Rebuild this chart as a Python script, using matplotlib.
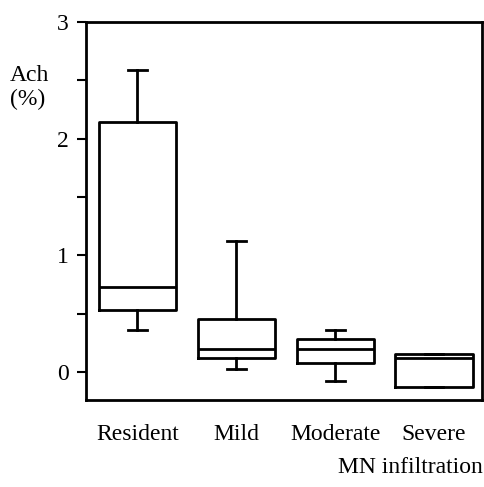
import matplotlib
matplotlib.use('Agg')
import matplotlib.pyplot as plt

# box statistics (Ach %)
groups = ['Resident', 'Mild', 'Moderate', 'Severe']
whislo = [0.36, 0.023, -0.075, -0.126]
q1 = [0.53, 0.117, 0.074, -0.126]
med = [0.73, 0.197, 0.197, 0.123]
q3 = [2.145, 0.457, 0.285, 0.157]
whishi = [2.585, 1.125, 0.36, 0.157]

plt.rcParams['font.family'] = 'Liberation Serif'

stats = []
for i in range(len(groups)):
    stats.append({'label': groups[i], 'whislo': whislo[i], 'q1': q1[i],
                  'med': med[i], 'q3': q3[i], 'whishi': whishi[i], 'fliers': []})

fig = plt.figure(figsize=(4.85, 4.87), dpi=100)
ax = fig.add_axes([0.1773, 0.1786, 0.8165, 0.7762])

lw = 2.0
ax.bxp(stats, positions=[1, 2, 3, 4], widths=0.78, capwidths=0.19, showfliers=False,
       boxprops=dict(color='black', linewidth=lw),
       medianprops=dict(color='black', linewidth=lw),
       whiskerprops=dict(color='black', linewidth=lw),
       capprops=dict(color='black', linewidth=lw))

ax.set_xlim(0.48, 4.485)
ax.set_ylim(-0.24, 3)
ax.set_yticks([0, 0.5, 1, 1.5, 2, 2.5, 3])
ax.set_yticklabels(['0', '', '1', '', '2', '', '3'])
ax.tick_params(axis='y', length=6.5, width=1.5, labelsize=17, pad=6)
ax.tick_params(axis='x', length=0, labelsize=17, pad=17)
for s in ax.spines.values():
    s.set_linewidth(2.0)

fig.text(0.02, 0.82, 'Ach\n(%)', fontsize=17, ha='left', va='center', linespacing=1.2)
fig.text(0.995, 0.04, 'MN infiltration', fontsize=17, ha='right', va='center')

fig.savefig('out.png', dpi=100)
